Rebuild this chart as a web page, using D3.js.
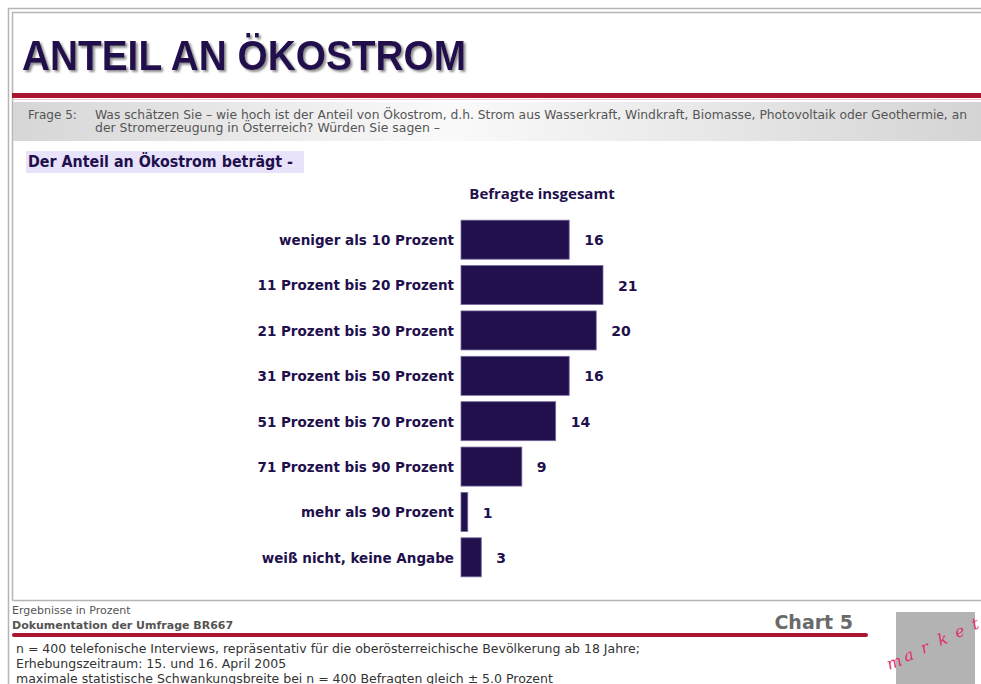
<!DOCTYPE html>
<html>
<head>
<meta charset="utf-8">
<script src="https://cdn.jsdelivr.net/npm/d3@7"></script>
<style>
  body { margin: 0; background: #fff; }
  svg { display: block; }
</style>
</head>
<body>
<div class="chart"></div>
<script>
// chart values
var categories = [
  "weniger als 10 Prozent",
  "11 Prozent bis 20 Prozent",
  "21 Prozent bis 30 Prozent",
  "31 Prozent bis 50 Prozent",
  "51 Prozent bis 70 Prozent",
  "71 Prozent bis 90 Prozent",
  "mehr als 90 Prozent",
  "weiß nicht, keine Angabe"
];
var values = [16, 21, 20, 16, 14, 9, 1, 3];
var seriesName = "Befragte insgesamt";

var title = "ANTEIL AN ÖKOSTROM";
var questionLines = [
  "Was schätzen Sie – wie hoch ist der Anteil von Ökostrom, d.h. Strom aus Wasserkraft, Windkraft, Biomasse, Photovoltaik oder Geothermie, an",
  "der Stromerzeugung in Österreich? Würden Sie sagen –"
];
var footNotes = [
  "n = 400 telefonische Interviews, repräsentativ für die oberösterreichische Bevölkerung ab 18 Jahre;",
  "Erhebungszeitraum: 15. und 16. April 2005",
  "maximale statistische Schwankungsbreite bei n = 400 Befragten gleich ± 5.0 Prozent"
];

var svgWidth = 981, svgHeight = 684;
var navy = "#22104d";
var red = "#a8162f";
var font = "'DejaVu Sans', sans-serif";

var svg = d3.select(".chart")
  .append("svg")
  .attr("width", svgWidth)
  .attr("height", svgHeight)
  .style("font-family", font);

var defs = svg.append("defs");
var grad = defs.append("linearGradient").attr("id", "qgrad");
grad.append("stop").attr("offset", "0%").attr("stop-color", "#d6d6d6");
grad.append("stop").attr("offset", "45%").attr("stop-color", "#fafafa");
grad.append("stop").attr("offset", "100%").attr("stop-color", "#d4d4d4");
// soft grey shadow behind the title
defs.append("filter").attr("id", "shadow")
  .append("feDropShadow")
  .attr("dx", 2).attr("dy", 2).attr("stdDeviation", 1)
  .attr("flood-color", "#808080").attr("flood-opacity", 0.9);

// frame
svg.append("path")
  .attr("d", "M8.5,684 V8.5 H981")
  .attr("fill", "none").attr("stroke", "#b5b5b5").attr("stroke-width", 1.5);
svg.append("path")
  .attr("d", "M12.5,600.5 V12.5 H981 M12.5,600.5 H981")
  .attr("fill", "none").attr("stroke", "#b5b5b5").attr("stroke-width", 1.5);

// title
svg.append("text")
  .attr("x", 22).attr("y", 70)
  .attr("font-family", "'Liberation Sans', Arial, sans-serif")
  .attr("font-size", 43).attr("font-weight", "bold")
  .attr("fill", navy)
  .attr("filter", "url(#shadow)")
  .attr("textLength", 444)
  .attr("lengthAdjust", "spacingAndGlyphs")
  .text(title);

svg.append("rect")
  .attr("x", 12).attr("y", 93).attr("width", 969).attr("height", 5)
  .attr("fill", red);
svg.append("line")
  .attr("x1", 12).attr("x2", 981).attr("y1", 99.5).attr("y2", 99.5)
  .attr("stroke", "#f0c8d0");

// question box
svg.append("rect")
  .attr("x", 13).attr("y", 102).attr("width", 968).attr("height", 39)
  .attr("fill", "url(#qgrad)");
svg.append("text")
  .attr("x", 28).attr("y", 119)
  .attr("font-size", 12).attr("fill", "#555")
  .text("Frage 5:");
svg.selectAll(".qline")
  .data(questionLines)
  .enter()
  .append("text")
  .attr("class", "qline")
  .attr("x", 95)
  .attr("y", (d, i) => 119 + i * 13)
  .attr("font-size", 12).attr("fill", "#555")
  .attr("textLength", (d, i) => i === 0 ? 872 : 345)
  .attr("lengthAdjust", "spacingAndGlyphs")
  .text(d => d);

// subtitle
svg.append("rect")
  .attr("x", 26).attr("y", 151).attr("width", 278).attr("height", 22)
  .attr("fill", "#e8e2fb");
svg.append("text")
  .attr("x", 28).attr("y", 167)
  .attr("font-size", 15).attr("font-weight", "bold")
  .attr("fill", navy)
  .attr("textLength", 265)
  .attr("lengthAdjust", "spacingAndGlyphs")
  .text("Der Anteil an Ökostrom beträgt -");

// bar chart
var margin = { top: 217, left: 461 };
var chartGroup = svg.append("g")
  .attr("transform", `translate(${margin.left}, ${margin.top})`);

var xScale = d3.scaleLinear()
  .domain([0, 21])
  .range([0, 142]);

var yScale = d3.scaleBand()
  .domain(categories)
  .range([0, 363])
  .paddingInner(0.14)
  .paddingOuter(0.07);

chartGroup.append("text")
  .attr("x", 81).attr("y", -18)
  .attr("text-anchor", "middle")
  .attr("font-size", 15).attr("font-weight", "bold")
  .attr("font-family", "'Comic Sans MS', 'Open Sans', sans-serif")
  .attr("fill", navy)
  .text(seriesName);

chartGroup.selectAll(".bar")
  .data(values)
  .enter()
  .append("rect")
  .attr("class", "bar")
  .attr("x", 0)
  .attr("y", (d, i) => yScale(categories[i]))
  .attr("width", d => xScale(d))
  .attr("height", yScale.bandwidth())
  .attr("fill", navy)
  .attr("stroke", "#7a6aa0")
  .attr("stroke-width", 0.8);

chartGroup.selectAll(".val")
  .data(values)
  .enter()
  .append("text")
  .attr("class", "val")
  .attr("x", d => xScale(d) + 15)
  .attr("y", (d, i) => yScale(categories[i]) + yScale.bandwidth() / 2)
  .attr("dy", "0.4em")
  .attr("font-size", 14).attr("font-weight", "bold")
  .attr("fill", navy)
  .text(d => d);

// category axis, no line or ticks
var yAxis = d3.axisLeft(yScale).tickSize(0).tickPadding(7);
chartGroup.append("g")
  .call(yAxis)
  .call(g => g.select(".domain").remove())
  .selectAll("text")
  .attr("font-size", 13.5).attr("font-weight", "bold")
  .attr("font-family", font)
  .attr("dy", "0.4em")
  .attr("fill", navy);

// footer
svg.append("text")
  .attr("x", 12).attr("y", 614)
  .attr("font-size", 11).attr("fill", "#555")
  .text("Ergebnisse in Prozent");
svg.append("text")
  .attr("x", 12).attr("y", 629)
  .attr("font-size", 11).attr("font-weight", "bold").attr("fill", "#555")
  .text("Dokumentation der Umfrage BR667");
svg.append("text")
  .attr("x", 853).attr("y", 629)
  .attr("text-anchor", "end")
  .attr("font-size", 19).attr("font-weight", "bold").attr("fill", "#6a6a6a")
  .text("Chart 5");
svg.append("line")
  .attr("x1", 14).attr("x2", 866).attr("y1", 635).attr("y2", 635)
  .attr("stroke", red).attr("stroke-width", 4).attr("stroke-linecap", "round");

svg.selectAll(".note")
  .data(footNotes)
  .enter()
  .append("text")
  .attr("class", "note")
  .attr("x", 16)
  .attr("y", (d, i) => 653 + i * 15)
  .attr("font-size", 12.5).attr("fill", "#333")
  .text(d => d);

// logo box
svg.append("rect")
  .attr("x", 896).attr("y", 612).attr("width", 79).attr("height", 72)
  .attr("fill", "#b3b3b3");
var logo = ["m", "a", "r", "k", "e", "t"];
svg.selectAll(".logo")
  .data(logo)
  .enter()
  .append("text")
  .attr("class", "logo")
  .attr("x", (d, i) => 889 + i * 17)
  .attr("y", (d, i) => 670 - i * 8)
  .attr("transform", (d, i) => `rotate(-20, ${889 + i * 17}, ${670 - i * 8})`)
  .attr("font-family", "'DejaVu Serif', serif")
  .attr("font-style", "italic")
  .attr("font-size", 16)
  .attr("fill", "#e0306a")
  .text(d => d);
</script>
</body>
</html>
